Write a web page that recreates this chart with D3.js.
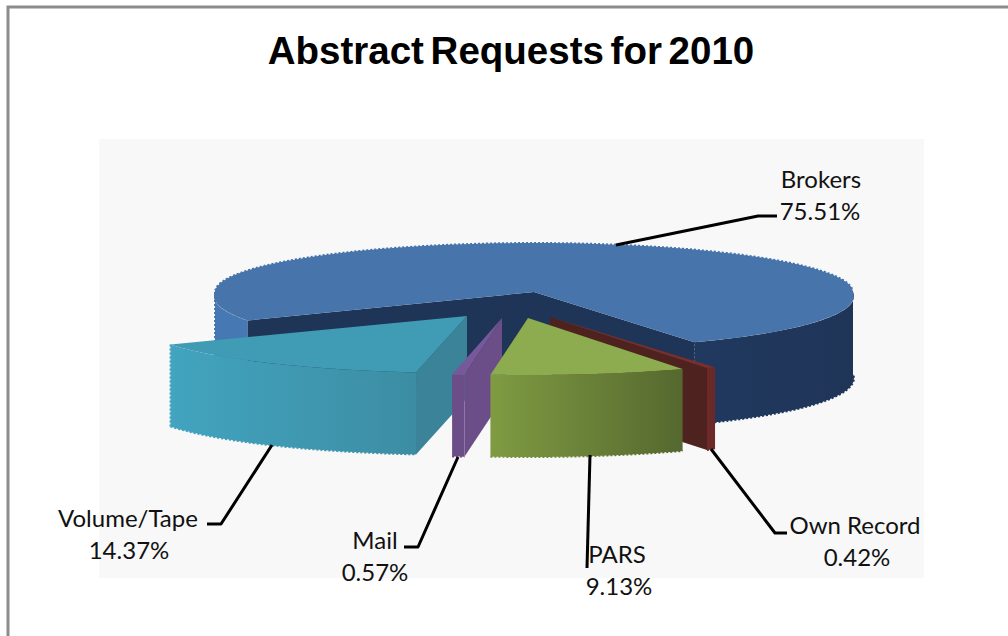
<!DOCTYPE html>
<html><head><meta charset="utf-8">
<script src="https://cdn.jsdelivr.net/npm/d3@7/dist/d3.min.js"></script>
<style>html,body{margin:0;padding:0;background:#fff;overflow:hidden}svg{display:block}</style>
</head><body><svg id="c" width="1008" height="636"></svg>
<script>
const title = "Abstract Requests for 2010";
const categories = ["Brokers","Own Record","PARS","Mail","Volume/Tape"];
const shares = [75.51,0.42,9.13,0.57,14.37];
const shareLabels = ["75.51%","0.42%","9.13%","0.57%","14.37%"];

const layout = {
  "Brokers":    {R:319,dx:0,  dy:0, top:"#4674ab",wall:["#21395f","#1f3558"],cut:"#1f3557",order:0,
                 label:[821,188],value:[820,220],leader:[[616,245],[758,216],[777,216]]},
  "Own Record": {R:328,dx:16, dy:25,top:"#7d2e2a",wall:["#6b2a27","#6b2a27"],cut:"#4e221e",order:1,
                 label:[855,534],value:[857,566],leader:[[711,449],[775,533],[787,533]]},
  "Volume/Tape":{R:330,dx:-67,dy:24,top:"#3f9cb4",wall:["#42a4bf","#3c8da3"],cut:"#3a8398",order:2,
                 label:[128,527],value:[129,559],leader:[[272,445],[221,524],[207,524]]},
  "Mail":       {R:323,dx:-32,dy:26,top:"#77589a",wall:["#6b4d87","#6b4d87"],cut:"#6b4d87",order:3,
                 label:[375,549],value:[375,581],leader:[[458,457],[418,547],[404,547]]},
  "PARS":       {R:323,dx:-6, dy:26,top:"#8dab4f",wall:["#7f9b42","#55682f"],cut:"#55682f",order:4,
                 label:[617,563],value:[619,595],leader:[[590,455],[587,568]]}
};

const svg = d3.select("#c");
const cx = 534, cy = 292, ryBack = 49, ryFront = 57, depth = 82, nearStretch = 0.075;
const rad = d => d*Math.PI/180;

svg.append("rect").attr("x",99).attr("y",139).attr("width",825).attr("height",439).attr("fill","#f8f8f8");
svg.append("path").attr("d","M8,636V7H1008").attr("fill","none").attr("stroke","#8c8c8c").attr("stroke-width",3);

svg.append("text").text(title).attr("x",511).attr("y",64).attr("text-anchor","middle")
  .attr("font-family","'Liberation Sans',Arial,sans-serif").attr("font-weight","700").attr("font-size",38.5)
  .attr("word-spacing",-4).attr("fill","#000");

const pie = d3.pie().sort(null).startAngle(rad(240)).endAngle(rad(600));
const arcs = pie(shares).map((p,i)=>({name:categories[i],share:shareLabels[i],a0:p.startAngle,a1:p.endAngle,...layout[categories[i]]}));

const defs = svg.append("defs");
const line = d3.line();
const pt = (s,a,z=0) => {
  const c = Math.cos(a);
  const near = c<0 ? 1-nearStretch*c : 1;
  return [cx+s.dx+s.R*near*Math.sin(a), cy+s.dy-c*(c>0?ryBack:ryFront)+z];
};
const apex = (s,z=0) => [cx+s.dx, cy+s.dy+z];
const samples = (a,b) => d3.range(0,61).map(i=>d3.interpolateNumber(a,b)(i/60));
const serrate = (g,pts,color) => g.append("path").attr("d",line(pts)).attr("fill","none")
  .attr("stroke",color).attr("stroke-width",2).attr("stroke-dasharray","2 2");

arcs.slice().sort((p,q)=>p.order-q.order).forEach((s,idx)=>{
  const g = svg.append("g").attr("class","slice");
  const id = "w"+idx;
  if (Math.sin(s.a0) < 0) {
    g.append("path").attr("d",line([apex(s),pt(s,s.a0),pt(s,s.a0,depth),apex(s,depth)])+"Z").attr("fill",s.cut);
  }
  if (Math.sin(s.a1) > 0) {
    g.append("path").attr("d",line([apex(s),pt(s,s.a1),pt(s,s.a1,depth),apex(s,depth)])+"Z").attr("fill",s.cut);
  }
  [[rad(90),rad(270)],[rad(450),rad(630)]].forEach(([f0,f1],k)=>{
    const b0 = Math.max(s.a0,f0), b1 = Math.min(s.a1,f1);
    if (b1<=b0) return;
    const A = samples(b0,b1);
    const t = A.map(a=>pt(s,a)), b = A.map(a=>pt(s,a,depth)).reverse();
    const xs = t.map(p=>p[0]);
    const gid = id+"_"+k;
    const lg = defs.append("linearGradient").attr("id",gid).attr("gradientUnits","userSpaceOnUse")
      .attr("x1",d3.min(xs)).attr("x2",d3.max(xs)).attr("y1",0).attr("y2",0);
    lg.append("stop").attr("offset",0).attr("stop-color",s.wall[0]);
    lg.append("stop").attr("offset",1).attr("stop-color",s.wall[1]);
    const fill = (s.name==="Brokers" && k===0) ? "#4678b4" : `url(#${gid})`;
    g.append("path").attr("d",line(t.concat(b))+"Z").attr("fill",fill);
    serrate(g,b,fill);
    if (s.name==="Brokers" || s.name==="Volume/Tape") {
      const edge = s.name==="Brokers" ? (k===0?t[t.length-1]:t[t.length-1]) : t[t.length-1];
      const edgeBottom = [edge[0],edge[1]+depth];
      serrate(g,[edge,edgeBottom],fill);
    }
  });
  const T = samples(s.a0,s.a1).map(a=>pt(s,a));
  g.append("path").attr("d",line([apex(s),...T])+"Z").attr("fill",s.top);
  serrate(g,T.filter((p,i)=>Math.cos(samples(s.a0,s.a1)[i])>0),s.top);
});

arcs.forEach(s=>{
  svg.append("path").attr("d",line(s.leader)).attr("fill","none").attr("stroke","#000").attr("stroke-width",3).attr("stroke-linejoin","round");
  const tf = (txt,p)=>svg.append("text").text(txt).attr("x",p[0]).attr("y",p[1]).attr("text-anchor","middle")
     .attr("font-family","Lato,Carlito,sans-serif").attr("font-size",24).attr("fill","#111");
  tf(s.name,s.label); tf(s.share,s.value);
});
</script></body></html>
